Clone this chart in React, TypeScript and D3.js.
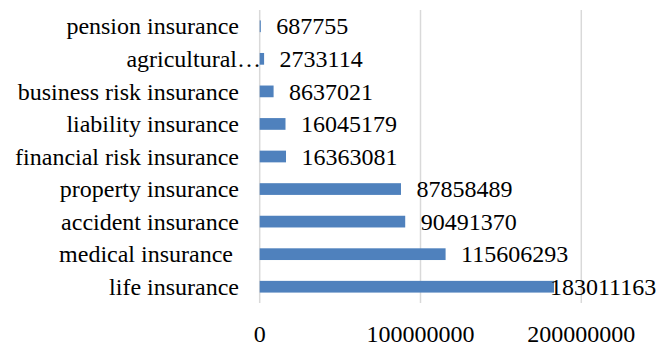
import React from "react";
import * as d3 from "d3";

const categories = [
  "pension insurance",
  "agricultural…",
  "business risk insurance",
  "liability insurance",
  "financial risk insurance",
  "property insurance",
  "accident insurance",
  "medical insurance ",
  "life insurance",
];
const values = [687755, 2733114, 8637021, 16045179, 16363081, 87858489, 90491370, 115606293, 183011163];
const ticks = [0, 100000000, 200000000];

const W = 672;
const H = 347;
const FONT = "Liberation Serif, Times New Roman, serif";
const FS = 24;

export default function App() {
  const x = d3.scaleLinear().domain([0, 200000000]).range([259.7, 581.3]);
  const y = d3.scaleBand<string>().domain(categories).range([10, 303]).padding(0);
  const bh = y.bandwidth() * 0.36;
  const rightLimit = 658;
  const ts: React.CSSProperties = { fontFamily: FONT, fontSize: FS, whiteSpace: "pre" };

  return (
    <svg
      width={W}
      height={H}
      style={{ position: "absolute", left: 0, top: 0, background: "#fff" }}
    >
      {ticks.map((t) => (
        <line key={"g" + t} x1={x(t)} x2={x(t)} y1={10} y2={303} stroke="#d9d9d9" strokeWidth={1.5} />
      ))}
      {categories.map((c, i) => {
        const cy = (y(c) as number) + y.bandwidth() / 2;
        const xe = x(values[i]);
        const label = String(values[i]);
        const lw = label.length * FS * 0.5;
        const lx = Math.min(xe + 15.5, rightLimit - lw);
        const isTrunc = c.endsWith("…");
        return (
          <g key={c}>
            <rect x={x(0)} y={cy - bh / 2} width={xe - x(0)} height={bh} fill="#4F81BD" />
            <text x={isTrunc ? 261 : 239} y={cy} dy="0.34em" textAnchor="end" fill="#000" style={ts}>
              {c}
            </text>
            <text x={lx} y={cy} dy="0.34em" fill="#000" style={ts}>
              {label}
            </text>
          </g>
        );
      })}
      {ticks.map((t) => (
        <text key={"t" + t} x={x(t)} y={342} textAnchor="middle" fill="#000" style={ts}>
          {String(t)}
        </text>
      ))}
    </svg>
  );
}
